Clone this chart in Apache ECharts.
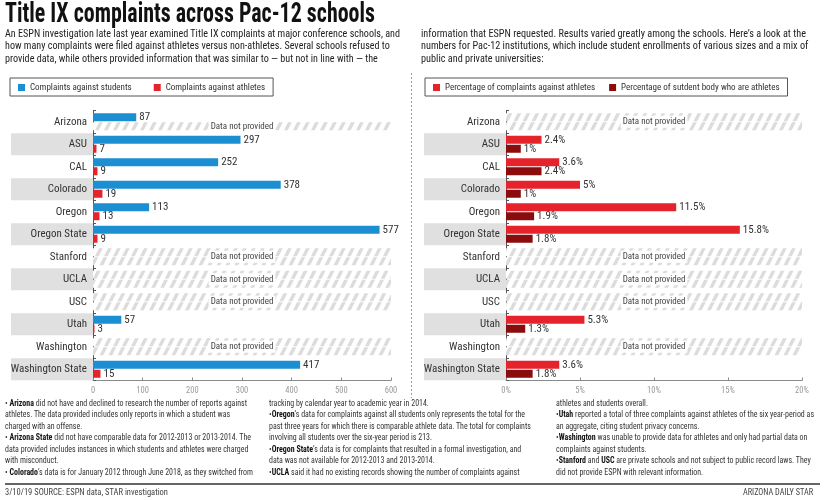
<!DOCTYPE html>
<html><head><meta charset="utf-8">
<script src="https://cdn.jsdelivr.net/npm/echarts/dist/echarts.min.js"></script>
<style>
html,body{margin:0;padding:0;background:#fff;}
#wrap{position:relative;width:825px;height:500px;overflow:hidden;font-family:'Roboto Condensed',sans-serif;color:#222;}
#chart{position:absolute;left:0;top:0;width:825px;height:500px;}
.blk{position:absolute;white-space:nowrap;transform-origin:0 0;}
.blk div{white-space:nowrap}
#title{left:5px;top:-1.5px;font-size:28px;line-height:28px;font-weight:700;color:#111;}
.intro{top:28px;font-size:10px;line-height:12.3px;color:#222}
.foot{top:397.5px;font-size:8.5px;line-height:11.6px;color:#333}
.foot b{color:#111;font-weight:700}
.src{top:487px;font-size:8.5px;line-height:11.6px;color:#444}
#rule{position:absolute;left:5px;top:482.5px;width:815px;height:2px;background:#666}
</style></head>
<body>
<div id="wrap">
<div id="chart"></div>
<div id="title" class="blk"><span id="titleSpan">Title IX complaints across Pac-12 schools</span></div>
<div id="introL" class="blk intro" style="left:5px">
<div><span class="ref">An ESPN investigation late last year examined Title IX complaints at major conference schools, and</span></div>
<div>how many complaints were filed against athletes versus non-athletes. Several schools refused to</div>
<div>provide data, while others provided information that was similar to — but not in line with — the</div>
</div>
<div id="introR" class="blk intro" style="left:421px">
<div><span class="ref">information that ESPN requested. Results varied greatly among the schools. Here’s a look at the</span></div>
<div>numbers for Pac-12 institutions, which include student enrollments of various sizes and a mix of</div>
<div>public and private universities:</div>
</div>
<div id="f1" class="blk foot" style="left:5px">
<div><span class="ref">• <b>Arizona</b> did not have and declined to research the number of reports against</span></div>
<div>athletes. The data provided includes only reports in which a student was</div>
<div>charged with an offense.</div>
<div>• <b>Arizona State</b> did not have comparable data for 2012-2013 or 2013-2014. The</div>
<div>data provided includes instances in which students and athletes were charged</div>
<div>with misconduct.</div>
<div>• <b>Colorado</b>’s data is for January 2012 through June 2018, as they switched from</div>
</div>
<div id="f2" class="blk foot" style="left:269px">
<div>tracking by calendar year to academic year in 2014.</div>
<div><span class="ref">•<b>Oregon</b>’s data for complaints against all students only represents the total for the</span></div>
<div>past three years for which there is comparable athlete data. The total for complaints</div>
<div>involving all students over the six-year period is 213.</div>
<div>•<b>Oregon State</b>’s data is for complaints that resulted in a formal investigation, and</div>
<div>data was not available for 2012-2013 and 2013-2014.</div>
<div>•<b>UCLA</b> said it had no existing records showing the number of complaints against</div>
</div>
<div id="f3" class="blk foot" style="left:556px">
<div>athletes and students overall.</div>
<div><span class="ref">•<b>Utah</b> reported a total of three complaints against athletes of the six year-period as</span></div>
<div>an aggregate, citing student privacy concerns.</div>
<div>•<b>Washington</b> was unable to provide data for athletes and only had partial data on</div>
<div>complaints against students.</div>
<div>•<b>Stanford</b> and <b>USC</b> are private schools and not subject to public record laws. They</div>
<div>did not provide ESPN with relevant information.</div>
</div>
<div id="rule"></div>
<div id="srcL" class="blk src" style="left:5px"><span class="ref">3/10/19 SOURCE: ESPN data, STAR investigation</span></div>
<div id="srcR" class="blk src" style="left:743px"><span class="ref">ARIZONA DAILY STAR</span></div>
</div>
<script>
// ---------- data ----------
var categories = ['Arizona', 'ASU', 'CAL', 'Colorado', 'Oregon', 'Oregon State', 'Stanford', 'UCLA', 'USC', 'Utah', 'Washington', 'Washington State'];
var complaintsStudents = [87, 297, 252, 378, 113, 577, null, null, null, 57, null, 417];
var complaintsAthletes = [null, 7, 9, 19, 13, 9, null, null, null, 3, null, 15];
var pctComplaintsAthletes = [null, 2.4, 3.6, 5, 11.5, 15.8, null, null, null, 5.3, null, 3.6];
var pctStudentBodyAthletes = [null, 1, 2.4, 1, 1.9, 1.8, null, null, null, 1.3, null, 1.8];
var leftAxisMax = 600, leftAxisStep = 100;
var rightAxisMax = 20, rightAxisStep = 5;
var naText = 'Data not provided';

// ---------- text fitting ----------
function fit(id, target) {
  var el = document.getElementById(id);
  var ref = el.querySelector('.ref') || el.querySelector('span');
  var w = ref.getBoundingClientRect().width;
  el.style.transform = 'scaleX(' + (target / w) + ')';
}
fit('title', 370);
fit('introL', 395);
fit('introR', 385);
fit('f1', 242);
fit('f2', 256);
fit('f3', 258);
fit('srcL', 163);
fit('srcR', 70);

// ---------- chart ----------
var FONT = 'Roboto Condensed';
var BLUE = '#1b8fd2', RED = '#e5232b', DARK = '#8b0c0c';

function hatchPattern() {
  var c = document.createElement('canvas');
  c.width = 9; c.height = 18;
  var x = c.getContext('2d');
  x.fillStyle = '#ffffff'; x.fillRect(0, 0, 9, 18);
  x.strokeStyle = '#dcdcdc'; x.lineWidth = 3.4;
  x.beginPath();
  [[9, 0, 0, 18], [18, 0, 9, 18], [0, 0, -9, 18]].forEach(function (l) {
    x.moveTo(l[0] + 1, l[1] - 2); x.lineTo(l[2] - 1, l[3] + 2);
  });
  x.stroke();
  return {image: c, repeat: 'repeat'};
}
var HATCH = hatchPattern();

function valueData(arr) { return arr.map(function (v) { return v == null ? '-' : v; }); }
// NA bar for the upper slot: carries the label when the whole row is missing
function naUpper(upper, lower, max) {
  return upper.map(function (v, i) {
    if (v != null) return '-';
    return {value: max, label: {show: lower[i] == null, offset: [0, 4.5]}};
  });
}
function naLower(lower, upper, max) {
  return lower.map(function (v, i) {
    if (v != null) return '-';
    return {value: max, label: {show: upper[i] != null}};
  });
}

var naLabel = {show: false, position: 'inside', formatter: naText, color: '#444', fontSize: 9,
  fontFamily: FONT, backgroundColor: '#fff', padding: [2, 2, 1, 2]};
function valLabel(fmt) {
  return {show: true, position: 'right', distance: 3, color: '#333', fontSize: 11, fontFamily: FONT, formatter: fmt};
}

function yAxis(gi) {
  var base = {width: 76, height: 22, lineHeight: 22, padding: [0, 6, 0, 0], align: 'right',
    fontSize: 11, color: '#333', fontFamily: FONT};
  return {
    type: 'category', gridIndex: gi, data: categories, inverse: true,
    axisLine: {show: true, lineStyle: {color: '#555', width: 1}},
    axisTick: {show: true, inside: true, length: 3, lineStyle: {color: '#555'}},
    axisLabel: {
      margin: 0, interval: 0,
      formatter: function (v, i) { return (i % 2 ? '{g|' : '{w|') + v + '}'; },
      rich: {
        g: Object.assign({backgroundColor: '#e0e0e0'}, base),
        w: Object.assign({}, base)
      }
    },
    splitLine: {show: false}
  };
}
function xAxis(gi, max, step, fmt) {
  return {
    type: 'value', gridIndex: gi, min: 0, max: max, interval: step,
    axisLine: {show: true, lineStyle: {color: '#8a8a8a', width: 1}},
    axisTick: {show: true, inside: true, length: 3, lineStyle: {color: '#8a8a8a'}},
    axisLabel: {color: '#9a9a9a', fontSize: 8.5, margin: 6, fontFamily: FONT, formatter: fmt},
    splitLine: {show: false}
  };
}
function legend(left, names, gap) {
  return {
    data: names, left: left, top: 78, width: 395, orient: 'horizontal', icon: 'rect',
    itemWidth: 7, itemHeight: 7, itemGap: gap, padding: [5, 8, 4, 8],
    borderColor: '#555', borderWidth: 1, borderRadius: 0, selectedMode: false,
    textStyle: {fontSize: 9, color: '#333', fontFamily: FONT}
  };
}
function bar(name, gi, stack, data, color, label) {
  return {
    name: name, type: 'bar', xAxisIndex: gi, yAxisIndex: gi, stack: stack, data: data,
    barWidth: 8, barGap: '12.5%', itemStyle: {color: color}, label: label,
    emphasis: {disabled: true}, silent: true
  };
}

var chart = echarts.init(document.getElementById('chart'), null, {renderer: 'canvas'});
chart.setOption({
  animation: false,
  backgroundColor: '#fff',
  textStyle: {fontFamily: FONT},
  grid: [
    {left: 93, top: 110.5, width: 298, height: 270, containLabel: false, outerBoundsMode: 'none'},
    {left: 506, top: 110.5, width: 296, height: 270, containLabel: false, outerBoundsMode: 'none'}
  ],
  legend: [
    legend(10, ['Complaints against students', 'Complaints against athletes'], 22),
    legend(425, ['Percentage of complaints against athletes', 'Percentage of sutdent body who are athletes'], 14)
  ],
  xAxis: [xAxis(0, leftAxisMax, leftAxisStep, '{value}'), xAxis(1, rightAxisMax, rightAxisStep, '{value}%')],
  yAxis: [yAxis(0), yAxis(1)],
  series: [
    bar('Complaints against students', 0, 's', valueData(complaintsStudents), BLUE, valLabel('{c}')),
    bar('na-students', 0, 's', naUpper(complaintsStudents, complaintsAthletes, leftAxisMax), HATCH, naLabel),
    bar('Complaints against athletes', 0, 'a', valueData(complaintsAthletes), RED, valLabel('{c}')),
    bar('na-athletes', 0, 'a', naLower(complaintsAthletes, complaintsStudents, leftAxisMax), HATCH, naLabel),
    bar('Percentage of complaints against athletes', 1, 'p', valueData(pctComplaintsAthletes), RED, valLabel('{c}%')),
    bar('na-pct', 1, 'p', naUpper(pctComplaintsAthletes, pctStudentBodyAthletes, rightAxisMax), HATCH, naLabel),
    bar('Percentage of sutdent body who are athletes', 1, 'b', valueData(pctStudentBodyAthletes), DARK, valLabel('{c}%')),
    bar('na-body', 1, 'b', naLower(pctStudentBodyAthletes, pctComplaintsAthletes, rightAxisMax), HATCH, naLabel)
  ],
  graphic: [
    {type: 'line', shape: {x1: 411.5, y1: 73, x2: 411.5, y2: 398}, style: {stroke: '#9a9a9a', lineWidth: 1, lineDash: [2, 2]}, silent: true}
  ]
});
</script>
</body></html>
